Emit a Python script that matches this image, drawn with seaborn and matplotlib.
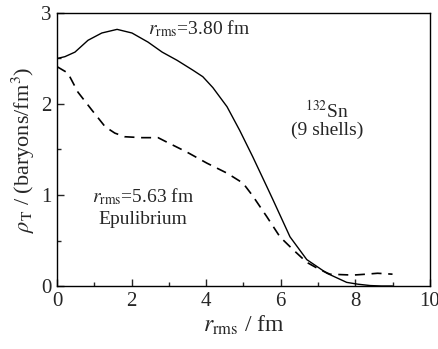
import numpy as np
import pandas as pd
import matplotlib
matplotlib.use("Agg")
import matplotlib.pyplot as plt
import seaborn as sns
from matplotlib.ticker import MultipleLocator

# Data
r_solid = [0.0, 0.21, 0.48, 0.83, 1.2, 1.61, 2.01, 2.44, 2.82, 3.22, 3.65, 3.91, 4.18, 4.56, 4.9, 5.25,
           5.63, 5.79, 6.25, 6.70, 7.24, 7.77, 8.07, 8.4, 8.7, 9.0]
rho_solid = [2.50, 2.52, 2.57, 2.70, 2.78, 2.82, 2.78, 2.68, 2.57, 2.48, 2.37, 2.30, 2.18, 1.97, 1.71, 1.42,
             1.09, 0.95, 0.54, 0.29, 0.14, 0.04, 0.02, 0.005, 0.0, 0.0]
r_dash = [0.0, 0.29, 0.56, 0.94, 1.29, 1.55, 1.82, 2.28, 2.71, 2.95, 3.49, 4.02, 4.56, 4.99, 5.25, 5.63,
          5.98, 6.33, 6.70, 7.05, 7.32, 7.94, 8.3, 8.6, 9.0]
rho_dash = [2.41, 2.34, 2.13, 1.93, 1.75, 1.68, 1.64, 1.63, 1.63, 1.58, 1.47, 1.35, 1.24, 1.13, 0.99, 0.76,
            0.54, 0.40, 0.26, 0.18, 0.13, 0.12, 0.13, 0.14, 0.13]

sns.set_style("ticks")
plt.rcParams['font.family'] = ['Liberation Serif', 'DejaVu Serif']
plt.rcParams['mathtext.fontset'] = 'stix'

fig = plt.figure(figsize=(4.39, 3.49), dpi=100)
ax = fig.add_axes([0.13, 0.1805, 0.849, 0.7823])

df_s = pd.DataFrame({"r": r_solid, "rho": rho_solid})
df_d = pd.DataFrame({"r": r_dash, "rho": rho_dash})
sns.lineplot(data=df_s, x="r", y="rho", ax=ax, color="black", lw=1.0, sort=False)
sns.lineplot(data=df_d, x="r", y="rho", ax=ax, color="black", lw=1.2, sort=False, linestyle=(0, (6, 4)))

ax.set_xlim(0, 10)
ax.set_ylim(0, 3)
ax.xaxis.set_major_locator(MultipleLocator(2))
ax.xaxis.set_minor_locator(MultipleLocator(1))
ax.yaxis.set_major_locator(MultipleLocator(1))
ax.yaxis.set_minor_locator(MultipleLocator(0.5))
ax.tick_params(which='both', direction='in', top=False, right=False, labelsize=15, width=1.0, pad=4)
ax.tick_params(which='major', length=5)
ax.tick_params(which='minor', length=3)
for s in ax.spines.values():
    s.set_linewidth(1.0)
    s.set_color('black')

ax.set_xlabel(r'$r_{\rm rms}$ / fm', fontsize=17, labelpad=2)
ax.set_ylabel(r'$\rho_{\rm T}$ / (baryons/fm$^3$)', fontsize=16, labelpad=3)

ax.text(2.44, 2.83, r'$r_{\rm rms}$=3.80 fm', fontsize=14, ha='left', va='center')
ax.text(7.24, 1.93, r'$^{132}$Sn', fontsize=14, ha='center', va='center')
ax.text(7.24, 1.71, '(9 shells)', fontsize=14, ha='center', va='center')
ax.text(2.3, 0.98, r'$r_{\rm rms}$=5.63 fm', fontsize=14, ha='center', va='center')
ax.text(2.3, 0.73, 'Epulibrium', fontsize=14, ha='center', va='center')

fig.savefig("out.png", dpi=100)
